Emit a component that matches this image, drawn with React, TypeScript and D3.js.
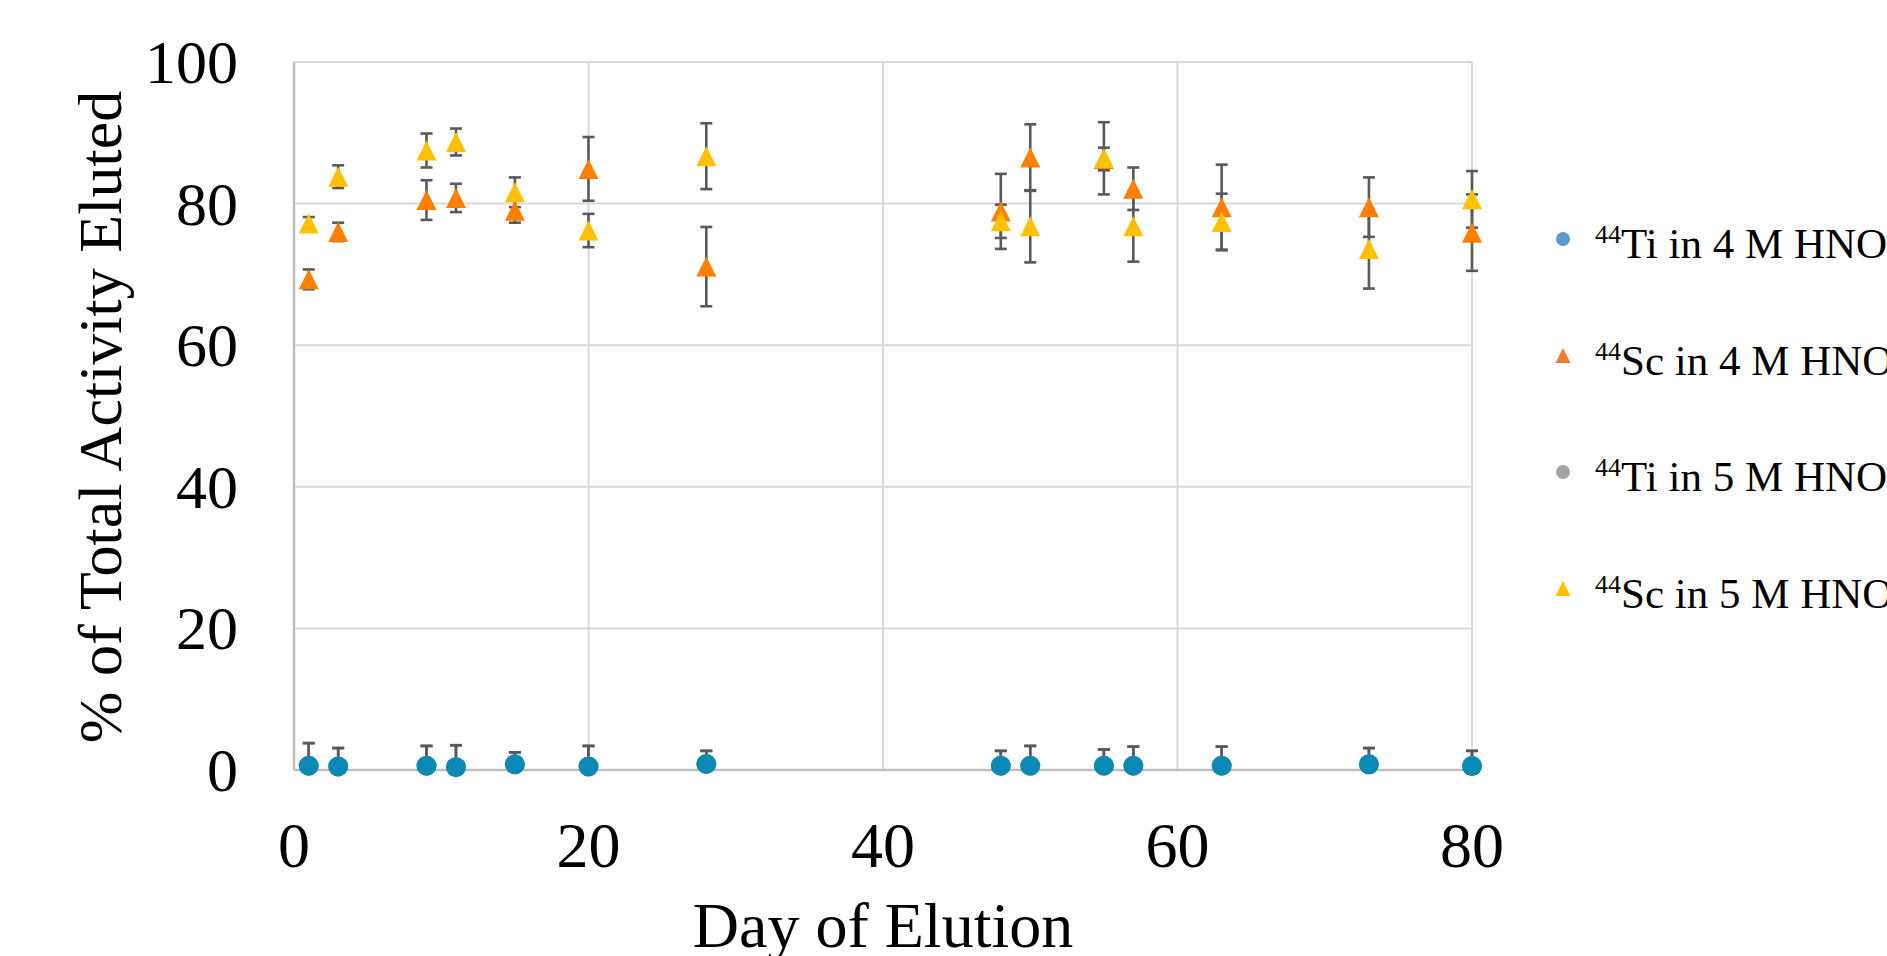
import React from "react";
import * as d3 from "d3";

const days = [1, 3, 9, 11, 15, 20, 28, 48, 50, 55, 57, 63, 73, 80];
const ti4 = [0.6, 0.5, 0.6, 0.4, 0.8, 0.5, 0.85, 0.6, 0.6, 0.6, 0.6, 0.6, 0.8, 0.55];
const ti4Err = [3.2, 2.6, 2.8, 3.1, 1.7, 2.9, 1.85, 2.1, 2.8, 2.3, 2.7, 2.7, 2.3, 2.15];
const sc4 = [69.3, 76.0, 80.5, 80.8, 79.0, 84.9, 71.1, 78.9, 86.5, 86.3, 82.1, 79.5, 79.5, 75.9];
const sc4Err = [1.4, 1.3, 2.8, 2.0, 1.7, 4.5, 5.6, 5.3, 4.7, 1.6, 3.0, 6.0, 4.2, 5.4];
const ti5 = [0.6, 0.5, 0.6, 0.4, 0.8, 0.5, 0.85, 0.6, 0.6, 0.6, 0.6, 0.6, 0.8, 0.55];
const ti5Err = [3.2, 2.6, 2.8, 3.1, 1.7, 2.9, 1.85, 2.1, 2.8, 2.3, 2.7, 2.7, 2.3, 2.15];
const sc5 = [77.2, 83.8, 87.5, 88.7, 81.6, 76.2, 86.7, 77.5, 76.8, 86.4, 76.8, 77.4, 73.6, 80.6];
const sc5Err = [0.9, 1.6, 2.4, 1.9, 2.1, 2.35, 4.65, 2.35, 5.1, 5.1, 5.0, 4.0, 5.6, 4.0];

const xTicks = [0, 20, 40, 60, 80];
const yTicks = [0, 20, 40, 60, 80, 100];

const legendItems = [
  { iso: "44", label: "Ti in 4 M HNO", shape: "circle", color: "#5B9BD5" },
  { iso: "44", label: "Sc in 4 M HNO", shape: "triangle", color: "#ED7D31" },
  { iso: "44", label: "Ti in 5 M HNO", shape: "circle", color: "#A5A5A5" },
  { iso: "44", label: "Sc in 5 M HNO", shape: "triangle", color: "#FFC000" },
];

const FONT = "'Liberation Serif', 'Times New Roman', serif";

export default function App() {
  const W = 1887;
  const H = 956;
  const x = d3.scaleLinear().domain([0, 80]).range([294, 1472]);
  const y = d3.scaleLinear().domain([0, 100]).range([770, 62]);

  const series = [
    { vals: ti5, err: ti5Err, shape: "circle", color: "#A5A5A5" },
    { vals: ti4, err: ti4Err, shape: "circle", color: "#0B89B5" },
    { vals: sc4, err: sc4Err, shape: "triangle", color: "#FF7F00" },
    { vals: sc5, err: sc5Err, shape: "triangle", color: "#FFC000" },
  ];

  const tri = (s: number) => `M0,${-s / 2}L${s / 2},${s / 2}L${-s / 2},${s / 2}Z`;

  const errBars = series.map((s, si) =>
    s.vals.map((v, i) => {
      const cx = x(days[i]);
      const top = y(Math.min(100, v + s.err[i]));
      const bot = y(Math.max(0, v - s.err[i]));
      return (
        <g key={`e${si}-${i}`} stroke="#595959" strokeWidth={2.6}>
          <line x1={cx} x2={cx} y1={top} y2={bot} />
          <line x1={cx - 6} x2={cx + 6} y1={top} y2={top} />
          {v - s.err[i] > 0 && <line x1={cx - 6} x2={cx + 6} y1={bot} y2={bot} />}
        </g>
      );
    })
  );

  const markers = series.map((s, si) =>
    s.vals.map((v, i) => {
      const cx = x(days[i]);
      const cy = y(v);
      return s.shape === "circle" ? (
        <circle key={`m${si}-${i}`} cx={cx} cy={cy} r={10} fill={s.color} />
      ) : (
        <path key={`m${si}-${i}`} d={tri(20)} transform={`translate(${cx},${cy})`} fill={s.color} />
      );
    })
  );

  return (
    <div style={{ position: "absolute", left: 0, top: 0 }}>
      <svg width={W} height={H} style={{ display: "block", background: "#fff" }}>
        <rect width={W} height={H} fill="#fff" />
        {/* gridlines */}
        {yTicks.filter((t) => t > 0).map((t) => (
          <line key={`gy${t}`} x1={x(0)} x2={x(80)} y1={y(t)} y2={y(t)} stroke="#D9D9D9" strokeWidth={2} />
        ))}
        {xTicks.filter((t) => t > 0).map((t) => (
          <line key={`gx${t}`} x1={x(t)} x2={x(t)} y1={y(0)} y2={y(100)} stroke="#D9D9D9" strokeWidth={2} />
        ))}
        {/* axes */}
        <line x1={x(0)} x2={x(0)} y1={y(0)} y2={y(100)} stroke="#BFBFBF" strokeWidth={2.5} />
        <line x1={x(0)} x2={x(80)} y1={y(0)} y2={y(0)} stroke="#BFBFBF" strokeWidth={2.5} />

        {/* tick labels */}
        {yTicks.map((t) => (
          <text key={`ty${t}`} x={238} y={y(t) + 21} textAnchor="end" fontFamily={FONT} fontSize={62} fill="#000">
            {t}
          </text>
        ))}
        {xTicks.map((t) => (
          <text key={`tx${t}`} x={x(t)} y={867} textAnchor="middle" fontFamily={FONT} fontSize={64} fill="#000">
            {t}
          </text>
        ))}

        {/* axis titles */}
        <text x={883} y={947} textAnchor="middle" fontFamily={FONT} fontSize={64} fill="#000">
          Day of Elution
        </text>
        <text
          transform={`translate(121,417) rotate(-90)`}
          textAnchor="middle"
          fontFamily={FONT}
          fontSize={62}
          fill="#000"
        >
          % of Total Activity Eluted
        </text>

        {errBars}
        {markers}

        {/* legend */}
        {legendItems.map((it, i) => {
          const ly = 239 + i * 116.5;
          return (
            <g key={`l${i}`}>
              {it.shape === "circle" ? (
                <circle cx={1563} cy={ly} r={7} fill={it.color} />
              ) : (
                <path d={tri(15)} transform={`translate(1563,${ly})`} fill={it.color} />
              )}
              <text x={1595} y={ly + 19} fontFamily={FONT} fill="#000">
                <tspan fontSize={26} dy={-15}>{it.iso}</tspan>
                <tspan fontSize={43} dy={15}>{it.label}</tspan>
                <tspan fontSize={26} dy={8}>3</tspan>
              </text>
            </g>
          );
        })}
      </svg>
    </div>
  );
}
